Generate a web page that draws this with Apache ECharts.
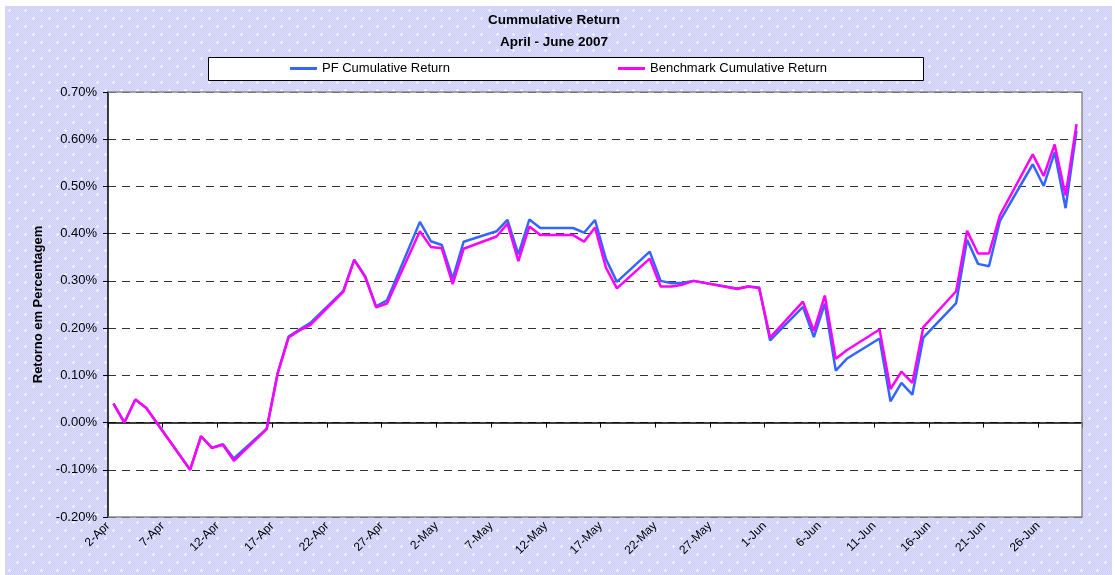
<!DOCTYPE html>
<html>
<head>
<meta charset="utf-8">
<script src="https://cdn.jsdelivr.net/npm/echarts/dist/echarts.min.js"></script>
<style>
html, body { margin: 0; padding: 0; background: #fff; }
#chart { position: absolute; left: 5px; top: 6px; width: 1107px; height: 569px; }
</style>
</head>
<body>
<div id="chart"></div>
<script>
// trading days, April - June 2007
const dates = [
  '2007-04-02', '2007-04-03', '2007-04-04', '2007-04-05', '2007-04-09', '2007-04-10', '2007-04-11',
  '2007-04-12', '2007-04-13', '2007-04-16', '2007-04-17', '2007-04-18', '2007-04-19', '2007-04-20',
  '2007-04-23', '2007-04-24', '2007-04-25', '2007-04-26', '2007-04-27', '2007-04-30', '2007-05-01',
  '2007-05-02', '2007-05-03', '2007-05-04', '2007-05-07', '2007-05-08', '2007-05-09', '2007-05-10',
  '2007-05-11', '2007-05-14', '2007-05-15', '2007-05-16', '2007-05-17', '2007-05-18', '2007-05-21',
  '2007-05-22', '2007-05-23', '2007-05-24', '2007-05-25', '2007-05-29', '2007-05-30', '2007-05-31',
  '2007-06-01', '2007-06-04', '2007-06-05', '2007-06-06', '2007-06-07', '2007-06-08', '2007-06-11',
  '2007-06-12', '2007-06-13', '2007-06-14', '2007-06-15', '2007-06-18', '2007-06-19', '2007-06-20',
  '2007-06-21', '2007-06-22', '2007-06-25', '2007-06-26', '2007-06-27', '2007-06-28', '2007-06-29'
];

// cumulative return in %
const pfReturn = [
  0.040, 0.000, 0.049, 0.031, -0.100, -0.029, -0.053,
  -0.046, -0.076, -0.013, 0.104, 0.182, 0.197, 0.211,
  0.279, 0.345, 0.310, 0.246, 0.259, 0.425, 0.384,
  0.376, 0.305, 0.383, 0.405, 0.429, 0.356, 0.430,
  0.412, 0.412, 0.402, 0.429, 0.346, 0.298, 0.362,
  0.300, 0.295, 0.296, 0.300, 0.284, 0.288, 0.286,
  0.174, 0.245, 0.181, 0.252, 0.110, 0.135, 0.178,
  0.045, 0.084, 0.059, 0.180, 0.253, 0.387, 0.336,
  0.331, 0.427, 0.547, 0.501, 0.572, 0.454, 0.618
];

const benchReturn = [
  0.040, 0.000, 0.049, 0.031, -0.100, -0.029, -0.054,
  -0.047, -0.081, -0.014, 0.104, 0.180, 0.195, 0.207,
  0.277, 0.344, 0.308, 0.244, 0.252, 0.405, 0.372,
  0.369, 0.293, 0.368, 0.394, 0.421, 0.342, 0.415,
  0.397, 0.397, 0.383, 0.413, 0.328, 0.284, 0.347,
  0.288, 0.288, 0.292, 0.300, 0.283, 0.288, 0.285,
  0.180, 0.256, 0.194, 0.269, 0.135, 0.153, 0.197,
  0.071, 0.108, 0.084, 0.202, 0.278, 0.406, 0.358,
  0.358, 0.439, 0.568, 0.522, 0.589, 0.481, 0.632
];

// x tick labels, one every 5 calendar days from 2-Apr
const xTickLabels = [
  '2-Apr', '7-Apr', '12-Apr', '17-Apr', '22-Apr', '27-Apr', '2-May', '7-May', '12-May',
  '17-May', '22-May', '27-May', '1-Jun', '6-Jun', '11-Jun', '16-Jun', '21-Jun', '26-Jun'
];

const FONT = "'Liberation Sans', Arial, sans-serif";
const startDay = Date.UTC(2007, 3, 2);

// day slot position: each calendar day is one unit wide, point in the middle
const dayPos = (s) => {
  const p = s.split('-');
  return (Date.UTC(+p[0], +p[1] - 1, +p[2]) - startDay) / 86400000 + 0.5;
};

const pfData = dates.map((d, i) => [dayPos(d), pfReturn[i]]);
const benchData = dates.map((d, i) => [dayPos(d), benchReturn[i]]);

// patterned background like the old excel chart area
const tile = document.createElement('canvas');
tile.width = 16; tile.height = 16;
const tctx = tile.getContext('2d');
tctx.fillStyle = '#dcdcfc';
tctx.fillRect(0, 0, 16, 16);
tctx.fillStyle = '#cdcdf6';
for (let y = 0; y < 16; y++) for (let x = 0; x < 16; x++) if ((x + y) % 2) tctx.fillRect(x, y, 1, 1);
tctx.fillStyle = '#f2f2ff';
[[4, 4], [12, 12]].forEach(([cx, cy]) => {
  tctx.fillRect(cx - 1, cy, 3, 1);
  tctx.fillRect(cx, cy - 1, 1, 3);
});
const chartDom = document.getElementById('chart');
chartDom.style.background = 'url(' + tile.toDataURL() + ')';

const G = { left: 103, top: 86, width: 974, height: 425 };

const myChart = echarts.init(chartDom);
const option = {
  animation: false,
  textStyle: { fontFamily: FONT },
  grid: {
    left: G.left, top: G.top, width: G.width, height: G.height,
    show: true, backgroundColor: '#fff', borderWidth: 0,
    outerBoundsMode: 'none'
  },
  graphic: [
    {
      type: 'text', x: 549, y: 14, z: 10,
      style: { text: 'Cummulative Return', font: 'bold 13.5px ' + FONT, fill: '#000', textAlign: 'center', textVerticalAlign: 'middle' }
    },
    {
      type: 'text', x: 549, y: 36, z: 10,
      style: { text: 'April - June 2007', font: 'bold 13.5px ' + FONT, fill: '#000', textAlign: 'center', textVerticalAlign: 'middle' }
    },
    {
      type: 'rect', z: 0,
      shape: { x: 203.5, y: 51.5, width: 715, height: 23 },
      style: { fill: '#fff', stroke: '#000', lineWidth: 1 }
    },
    {
      type: 'polyline', z: 5,
      shape: { points: [[G.left, G.top], [G.left + G.width, G.top], [G.left + G.width, G.top + G.height], [G.left, G.top + G.height]] },
      style: { fill: null, stroke: '#8a8a8a', lineWidth: 1.5 }
    }
  ],
  legend: [
    {
      data: ['PF Cumulative Return'], left: 285, top: 56, padding: 0,
      icon: 'rect', itemWidth: 27, itemHeight: 3, selectedMode: false,
      textStyle: { fontFamily: FONT, fontSize: 13, color: '#000' }
    },
    {
      data: ['Benchmark Cumulative Return'], left: 613, top: 56, padding: 0,
      icon: 'rect', itemWidth: 27, itemHeight: 3, selectedMode: false,
      textStyle: { fontFamily: FONT, fontSize: 13, color: '#000' }
    }
  ],
  xAxis: [
    {
      type: 'value', min: 0, max: 89, interval: 5, position: 'bottom',
      axisLine: { show: false, onZero: false },
      axisTick: { show: false },
      splitLine: { show: false },
      axisLabel: {
        rotate: 45, margin: 7, fontSize: 12, color: '#000', fontFamily: FONT,
        formatter: (v) => (v % 5 === 0 && v < 89 ? xTickLabels[v / 5] : '')
      }
    },
    {
      type: 'value', min: 0, max: 89, interval: 5, position: 'bottom',
      axisLine: { show: true, onZero: true, lineStyle: { color: '#000', width: 1.5 } },
      axisTick: { show: true, length: 5, lineStyle: { color: '#000', width: 1 } },
      axisLabel: { show: false },
      splitLine: { show: false }
    }
  ],
  yAxis: {
    type: 'value', min: -0.2, max: 0.7, interval: 0.1,
    name: 'Retorno em Percentagem', nameLocation: 'middle', nameGap: 63, nameRotate: 90,
    nameTextStyle: { fontFamily: FONT, fontSize: 13, fontWeight: 'bold', color: '#000' },
    axisLine: { show: true, onZero: false, lineStyle: { color: '#000', width: 1.5 } },
    axisTick: { show: true, length: 5, lineStyle: { color: '#000', width: 1 } },
    axisLabel: {
      margin: 11, fontSize: 13, color: '#000', fontFamily: FONT,
      formatter: (v) => (Math.abs(v) < 1e-9 ? 0 : v).toFixed(2) + '%'
    },
    splitLine: { show: true, lineStyle: { color: '#333', width: 1, type: [8, 6] } }
  },
  series: [
    {
      name: 'PF Cumulative Return', type: 'line', data: pfData,
      showSymbol: false, color: '#3366ff',
      lineStyle: { width: 2.5, color: '#3366ff' }
    },
    {
      name: 'Benchmark Cumulative Return', type: 'line', data: benchData,
      showSymbol: false, color: '#ff00ff',
      lineStyle: { width: 2.5, color: '#ff00ff' }
    }
  ]
};
option && myChart.setOption(option);
</script>
</body>
</html>
